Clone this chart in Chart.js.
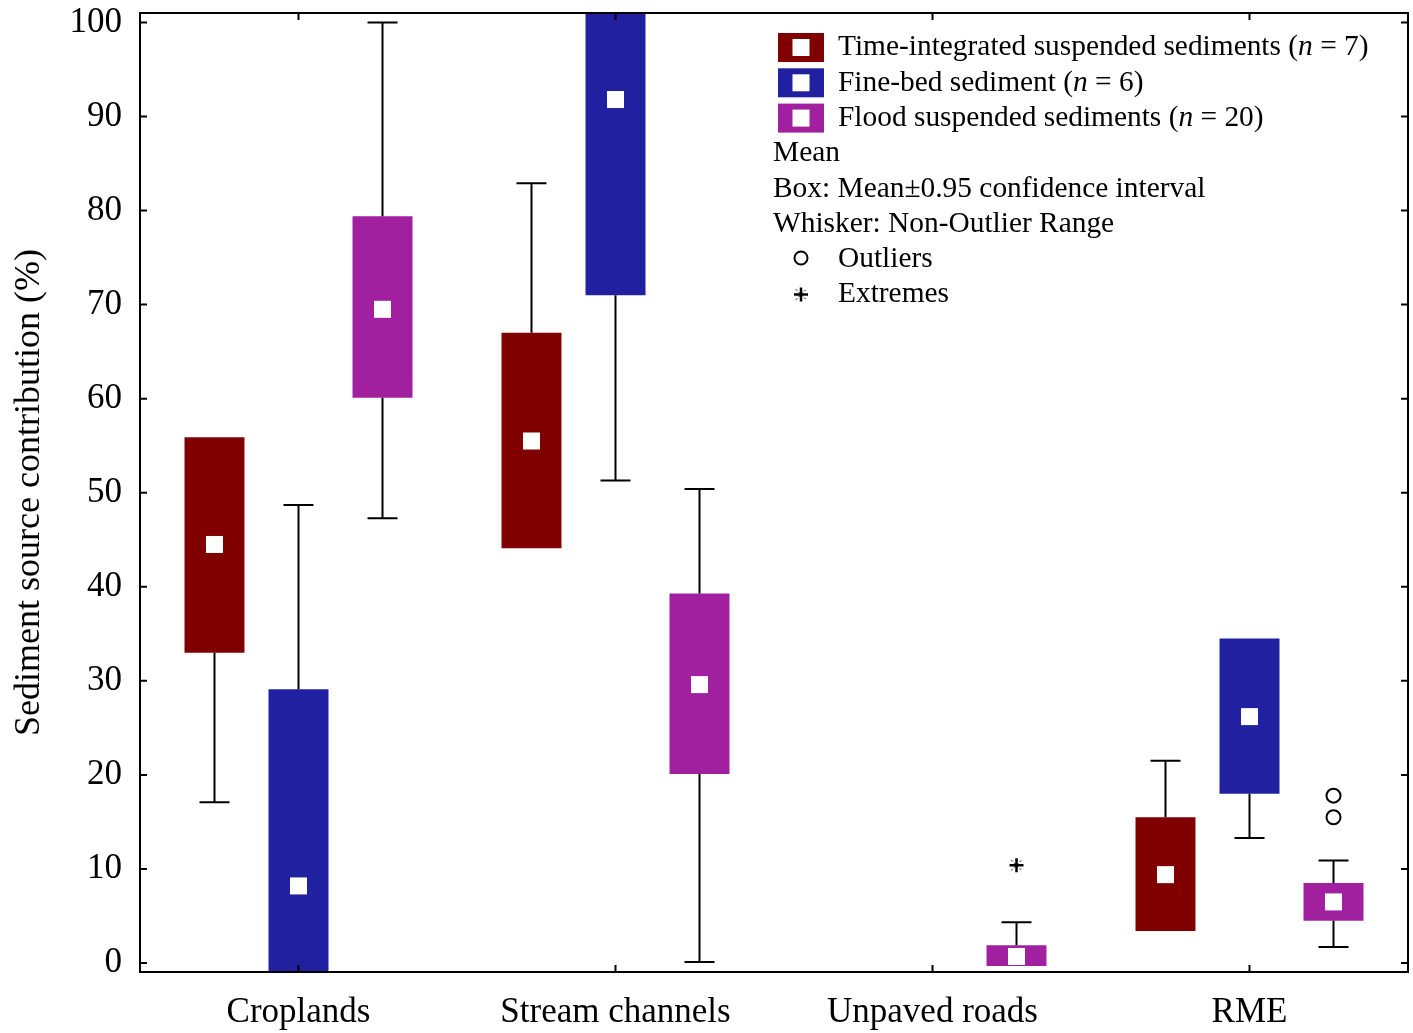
<!DOCTYPE html>
<html lang="en">
<head>
<meta charset="UTF-8">
<title>Sediment source contribution</title>
<style>
    body { margin: 0; background: #fff; }
    #wrap { width: 1413px; height: 1033px; position: relative; }
</style>
</head>
<body>
<div id="wrap"><canvas id="myChart"></canvas></div>

<script src="https://cdn.jsdelivr.net/npm/chart.js"></script>
<script>
// categories and tick labels
const categories = ['Croplands', 'Stream channels', 'Unpaved roads', 'RME'];
const yTicks = [0, 10, 20, 30, 40, 50, 60, 70, 80, 90, 100];

// time-integrated suspended sediments (n = 7)
const timeIntBoxLow   = [33.0, 44.1, null, 3.4];
const timeIntBoxHigh  = [55.9, 67.0, null, 15.5];
const timeIntMean     = [44.5, 55.5, null, 9.4];
const timeIntWhiskLow = [17.1, 44.1, null, 3.4];
const timeIntWhiskHigh= [55.9, 82.9, null, 21.5];

// fine-bed sediment (n = 6)
const fineBedBoxLow   = [-1.5, 71.0, null, 18.0];
const fineBedBoxHigh  = [29.1, 102, null, 34.5];
const fineBedMean     = [8.2, 91.8, null, 26.2];
const fineBedWhiskLow = [-1.5, 51.3, null, 13.3];
const fineBedWhiskHigh= [48.7, 102, null, 34.5];

// flood suspended sediments (n = 20)
const floodBoxLow   = [60.1, 20.1, -0.3, 4.5];
const floodBoxHigh  = [79.4, 39.3, 1.9, 8.5];
const floodMean     = [69.5, 29.6, 0.7, 6.5];
const floodWhiskLow = [47.3, 0.1, -0.3, 1.7];
const floodWhiskHigh= [100, 50.4, 4.35, 10.9];
const floodOutliers = [[], [], [], [15.5, 17.8]];
const floodExtremes = [[], [], [10.4], []];

const seriesNames = [
    ['Time-integrated suspended sediments', '7'],
    ['Fine-bed sediment', '6'],
    ['Flood suspended sediments', '20']
];
const colors = ['#800000', '#2020a0', '#a020a0'];

const FONT = '"Liberation Serif", "Times New Roman", serif';

function boxes(lo, hi) {
    return lo.map((v, i) => v === null ? null : [v, hi[i]]);
}

const stats = [
    { mean: timeIntMean, wLo: timeIntWhiskLow, wHi: timeIntWhiskHigh, lo: timeIntBoxLow, hi: timeIntBoxHigh, out: null, ext: null },
    { mean: fineBedMean, wLo: fineBedWhiskLow, wHi: fineBedWhiskHigh, lo: fineBedBoxLow, hi: fineBedBoxHigh, out: null, ext: null },
    { mean: floodMean, wLo: floodWhiskLow, wHi: floodWhiskHigh, lo: floodBoxLow, hi: floodBoxHigh, out: floodOutliers, ext: floodExtremes }
];

// bold plus with faint diagonals, like the original "extreme" symbol
function drawStar(ctx, x, y, r) {
    ctx.save();
    ctx.lineWidth = 2.5;
    ctx.beginPath();
    ctx.moveTo(x - r, y); ctx.lineTo(x + r, y);
    ctx.moveTo(x, y - r); ctx.lineTo(x, y + r);
    ctx.stroke();
    ctx.lineWidth = 1;
    ctx.setLineDash([2, 2]);
    const d = r * 0.75;
    ctx.beginPath();
    ctx.moveTo(x - d, y - d); ctx.lineTo(x + d, y + d);
    ctx.moveTo(x - d, y + d); ctx.lineTo(x + d, y - d);
    ctx.stroke();
    ctx.restore();
}

// whiskers, means, outliers, frame and inner ticks
const boxExtras = {
    id: 'boxExtras',
    afterDatasetsDraw(chart) {
        const ctx = chart.ctx;
        const y = chart.scales.y;
        const x = chart.scales.x;
        const a = chart.chartArea;
        ctx.save();
        ctx.beginPath();
        ctx.rect(a.left, a.top, a.right - a.left, a.bottom - a.top);
        ctx.clip();
        ctx.strokeStyle = '#000';
        ctx.lineWidth = 2;
        stats.forEach((s, d) => {
            const meta = chart.getDatasetMeta(d);
            s.mean.forEach((m, j) => {
                if (m === null) return;
                const bx = meta.data[j].x;
                const pairs = [[s.hi[j], s.wHi[j]], [s.lo[j], s.wLo[j]]];
                pairs.forEach(([from, to]) => {
                    if (Math.abs(to - from) < 0.01) return;
                    const p1 = y.getPixelForValue(from), p2 = y.getPixelForValue(to);
                    ctx.beginPath();
                    ctx.moveTo(bx, p1); ctx.lineTo(bx, p2);
                    ctx.moveTo(bx - 15, p2); ctx.lineTo(bx + 15, p2);
                    ctx.stroke();
                });
                const my = y.getPixelForValue(m);
                ctx.fillStyle = '#fff';
                ctx.fillRect(bx - 8.5, my - 8.5, 17, 17);
                if (s.out) s.out[j].forEach(v => {
                    ctx.beginPath();
                    ctx.arc(bx, y.getPixelForValue(v), 7, 0, Math.PI * 2);
                    ctx.stroke();
                });
                if (s.ext) s.ext[j].forEach(v => {
                    drawStar(ctx, bx, y.getPixelForValue(v), 7);
                });
            });
        });
        ctx.restore();

        // frame
        ctx.save();
        ctx.strokeStyle = '#000';
        ctx.lineWidth = 2;
        ctx.strokeRect(a.left, a.top, a.right - a.left, a.bottom - a.top);
        ctx.beginPath();
        yTicks.forEach(v => {
            const py = y.getPixelForValue(v);
            ctx.moveTo(a.left, py); ctx.lineTo(a.left + 7, py);
            ctx.moveTo(a.right, py); ctx.lineTo(a.right - 7, py);
        });
        categories.forEach((c, i) => {
            const px = x.getPixelForValue(i);
            ctx.moveTo(px, a.bottom); ctx.lineTo(px, a.bottom - 7);
            ctx.moveTo(px, a.top); ctx.lineTo(px, a.top + 7);
        });
        ctx.stroke();
        ctx.restore();
    },
    afterDraw(chart) {
        // legend block
        const ctx = chart.ctx;
        ctx.save();
        ctx.fillStyle = '#000';
        ctx.textBaseline = 'middle';
        ctx.textAlign = 'left';
        const fs = 29.4;
        const rowY = [47.5, 82.8, 118.1];
        seriesNames.forEach((s, i) => {
            const cy = rowY[i];
            ctx.fillStyle = colors[i];
            ctx.fillRect(778, cy - 14.5, 46, 29);
            ctx.fillStyle = '#fff';
            ctx.fillRect(801 - 8.5, cy - 8.5, 17, 17);
            ctx.fillStyle = '#000';
            let tx = 838;
            ctx.font = fs + 'px ' + FONT;
            const t1 = s[0] + ' (';
            ctx.fillText(t1, tx, cy); tx += ctx.measureText(t1).width;
            ctx.font = 'italic ' + fs + 'px ' + FONT;
            ctx.fillText('n', tx, cy); tx += ctx.measureText('n').width;
            ctx.font = fs + 'px ' + FONT;
            ctx.fillText(' = ' + s[1] + ')', tx, cy);
        });
        ctx.font = fs + 'px ' + FONT;
        ctx.fillText('Mean', 773, 153.5);
        ctx.fillText('Box: Mean\u00b10.95 confidence interval', 773, 188.8);
        ctx.fillText('Whisker: Non-Outlier Range', 773, 224.1);
        ctx.fillText('Outliers', 838, 259.4);
        ctx.fillText('Extremes', 838, 294.7);
        ctx.strokeStyle = '#000';
        ctx.lineWidth = 2;
        ctx.beginPath();
        ctx.arc(801, 258, 6.5, 0, Math.PI * 2);
        ctx.stroke();
        drawStar(ctx, 801, 294.5, 7);
        ctx.restore();
    }
};

const ctx = document.getElementById('myChart').getContext('2d');
new Chart(ctx, {
    type: 'bar',
    data: {
        labels: categories,
        datasets: [
            { label: seriesNames[0][0], data: boxes(timeIntBoxLow, timeIntBoxHigh), backgroundColor: colors[0] },
            { label: seriesNames[1][0], data: boxes(fineBedBoxLow, fineBedBoxHigh), backgroundColor: colors[1] },
            { label: seriesNames[2][0], data: boxes(floodBoxLow, floodBoxHigh), backgroundColor: colors[2] }
        ]
    },
    options: {
        responsive: true,
        maintainAspectRatio: false,
        animation: false,
        categoryPercentage: 0.795,
        barPercentage: 0.714,
        layout: { padding: { top: 13, right: 5, left: 0, bottom: 0 } },
        plugins: {
            legend: { display: false },
            tooltip: { enabled: false }
        },
        scales: {
            x: {
                grid: { display: false, drawTicks: false },
                border: { display: false },
                ticks: { color: '#000', font: { family: FONT, size: 35 }, padding: 20 },
                afterFit: s => {
                    s.height = 61;
                    s.paddingLeft = 0; s.paddingRight = 0;
                }
            },
            y: {
                min: -0.95,
                max: 101,
                grid: { display: false, drawTicks: false },
                border: { display: false },
                afterBuildTicks: s => { s.ticks = yTicks.map(v => ({ value: v })); },
                ticks: { color: '#000', font: { family: FONT, size: 35 }, padding: 18 },
                title: {
                    display: true,
                    text: 'Sediment source contribution (%)',
                    color: '#000',
                    font: { family: FONT, size: 36, lineHeight: 1.2 },
                    padding: { top: 8, bottom: 0 }
                },
                afterFit: s => {
                    s.width = 140;
                    s.paddingTop = 0; s.paddingBottom = 0;
                }
            }
        }
    },
    plugins: [boxExtras]
});
</script>
</body>
</html>
